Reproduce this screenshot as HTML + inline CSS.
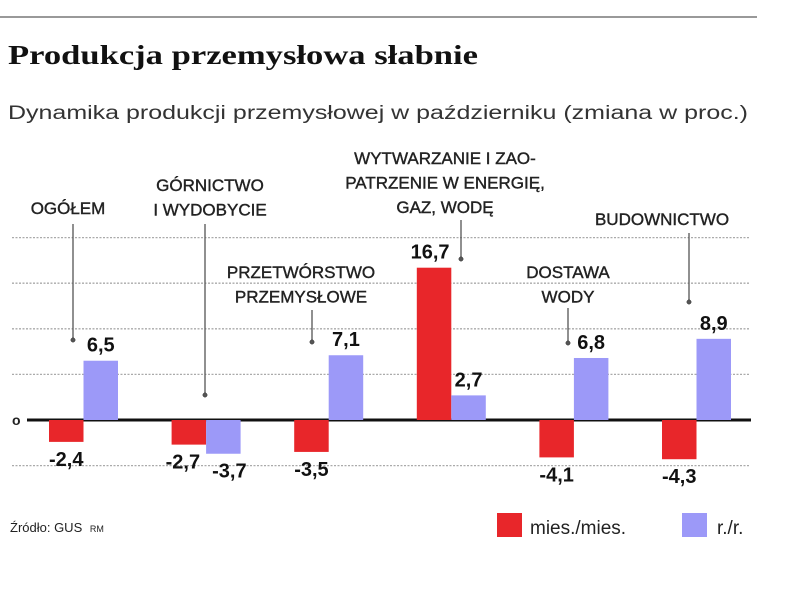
<!DOCTYPE html>
<html><head><meta charset="utf-8"><style>
body{margin:0;background:#fff;}
svg{display:block;font-family:"Liberation Sans",sans-serif;}
</style></head><body>
<svg width="805" height="589" viewBox="0 0 805 589">
<line x1="0" y1="17" x2="757" y2="17" stroke="#999" stroke-width="2"/>
<text x="8" y="64" font-family="Liberation Serif,serif" font-weight="bold" font-size="27" fill="#111" textLength="470" lengthAdjust="spacingAndGlyphs">Produkcja przemysłowa słabnie</text>
<text x="8" y="119" font-size="19" fill="#333" textLength="740" lengthAdjust="spacingAndGlyphs">Dynamika produkcji przemysłowej w październiku (zmiana w proc.)</text>
<g id="grid"></g>
<g id="bars"></g>
<g id="labels" font-size="17" fill="#222" stroke="#222" stroke-width="0.4" text-anchor="middle"></g>
<text x="10" y="532" font-size="13" fill="#222">Źródło: GUS <tspan font-size="9" dx="4">RM</tspan></text>
<rect x="497" y="513" width="25" height="24" fill="#e8262a"/>
<text x="530" y="534" font-size="19" fill="#222">mies./mies.</text>
<rect x="682" y="513" width="25" height="24" fill="#9c99f8"/>
<text x="717" y="534" font-size="19" fill="#222">r./r.</text>
</svg>
<script>
const categories=["OGÓŁEM","GÓRNICTWO I WYDOBYCIE","PRZETWÓRSTWO PRZEMYSŁOWE","WYTWARZANIE I ZAOPATRZENIE","DOSTAWA WODY","BUDOWNICTWO"];
const mm=[-2.4,-2.7,-3.5,16.7,-4.1,-4.3];
const rr=[6.5,-3.7,7.1,2.7,6.8,8.9];
const mmLabels=["-2,4","-2,7","-3,5","16,7","-4,1","-4,3"];
const rrLabels=["6,5","-3,7","7,1","2,7","6,8","8,9"];
const gridTicks=[-5,5,10,15,20];
const NS="http://www.w3.org/2000/svg";
const zeroY=420, unit=9.12, x0=49, step=122.6, bw=34.5;
const y=v=>zeroY-v*unit;
const xg=i=>x0+i*step;
function mk(tag,attrs,parent){const e=document.createElementNS(NS,tag);for(const k in attrs)e.setAttribute(k,attrs[k]);parent.appendChild(e);return e;}
const grid=document.getElementById('grid'),bars=document.getElementById('bars'),labels=document.getElementById('labels');
gridTicks.forEach(t=>{const l=mk('line',{x1:12,x2:750,y1:y(t),y2:y(t),stroke:'#aaa','stroke-width':1.3,'stroke-dasharray':'2 1.5'},grid);

});
const z=mk('line',{x1:27,x2:751,y1:zeroY,y2:zeroY,stroke:'#111','stroke-width':3},grid);


const zt=mk('text',{x:12,y:zeroY+5,'font-size':14,fill:'#222','font-weight':'bold'},grid);zt.textContent='o';


function lab(txt,x,yy,name){const t=mk('text',{x:x,y:yy,'font-weight':'bold','font-size':20,fill:'#111','text-anchor':'middle'},bars);t.textContent=txt;

}
categories.forEach((c,i)=>{
  const xr=xg(i), xb=xg(i)+bw;
  const r=mk('rect',{x:xr,y:Math.min(y(mm[i]),zeroY),width:bw,height:Math.abs(mm[i])*unit,fill:'#e8262a'},bars);
  
  
  const b=mk('rect',{x:xb,y:Math.min(y(rr[i]),zeroY),width:bw,height:Math.abs(rr[i])*unit,fill:'#9c99f8'},bars);
  
  
  const ly=v=>v>=0?y(v)-9:y(v)+24;
  let mx=xr+bw/2, rx=xb+bw/2;
  if(mm[i]<0&&rr[i]<0){mx-=6;rx+=6;}
  if(mm[i]>0){mx-=4;}
  lab(mmLabels[i],mx,ly(mm[i]),'value-mm-'+i);
  lab(rrLabels[i],rx,ly(rr[i]),'value-rr-'+i);
});
const cats=[
 {lines:["OGÓŁEM"],cx:68,y0:214,lx:73,l1:224,l2:340},
 {lines:["GÓRNICTWO","I WYDOBYCIE"],cx:210,y0:191,lx:205,l1:224,l2:395},
 {lines:["PRZETWÓRSTWO","PRZEMYSŁOWE"],cx:301,y0:278,lx:312,l1:310,l2:342},
 {lines:["WYTWARZANIE I ZAO-","PATRZENIE W ENERGIĘ,","GAZ, WODĘ"],cx:445,y0:164,lx:461,l1:220,l2:259},
 {lines:["DOSTAWA","WODY"],cx:568,y0:278,lx:568,l1:308,l2:343},
 {lines:["BUDOWNICTWO"],cx:662,y0:225,lx:689,l1:233,l2:302}];
cats.forEach((c,i)=>{
  const t=mk('text',{x:c.cx,y:c.y0},labels);
  
  
  c.lines.forEach((s,j)=>{const ts=mk('tspan',{x:c.cx,y:c.y0+j*24.5},t);ts.textContent=s;});
  const l=mk('line',{x1:c.lx,x2:c.lx,y1:c.l1,y2:c.l2,stroke:'#555','stroke-width':1.3},labels);
  
  
  const d=mk('circle',{cx:c.lx,cy:c.l2,r:2.2,fill:'#555'},labels);
  
  
});
</script>
</body></html>
